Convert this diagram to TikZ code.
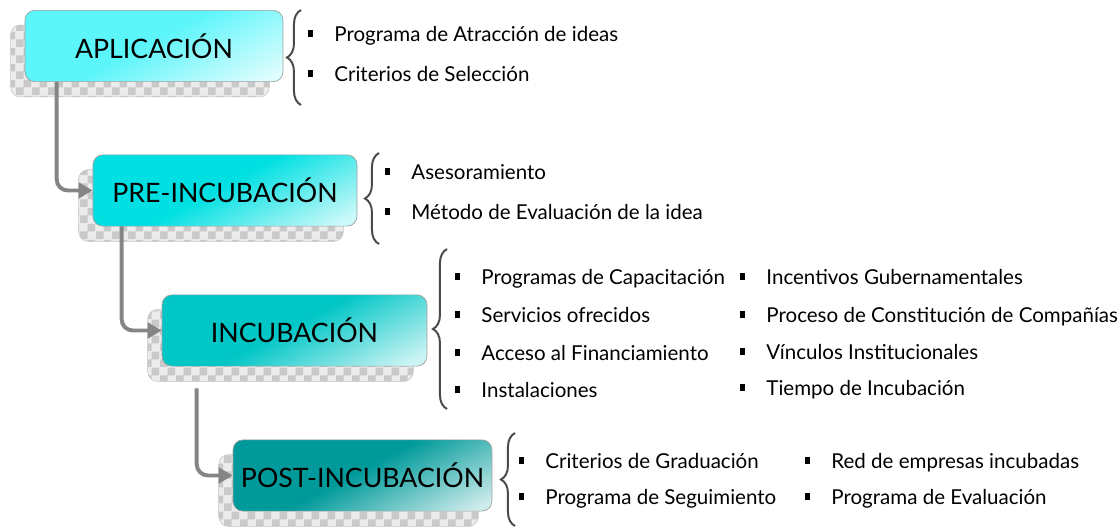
\documentclass[tikz,border=0pt]{standalone}
\usepackage{fontspec}
\setmainfont{Lato}
\usetikzlibrary{positioning,arrows.meta,calc,patterns,backgrounds,decorations.pathreplacing}
\definecolor{aplcol}{HTML}{5CF5FA}
\definecolor{precol}{HTML}{00E0E2}
\definecolor{inccol}{HTML}{00C6C6}
\definecolor{postcol}{HTML}{009A9A}
\definecolor{arrowgray}{HTML}{858585}
\definecolor{bracegray}{HTML}{4A4A4A}
\colorlet{stagemain}{aplcol}
\colorlet{stagelight}{white}
\pgfdeclareverticalshading[stagemain,stagelight]{stageshade}{100bp}{%
  color(0bp)=(stagelight); color(20bp)=(stagelight);
  color(52bp)=(stagemain); color(100bp)=(stagemain)}
\newcommand{\itm}[1]{\rule[3pt]{3.6pt}{5pt}\hspace{15pt}#1}
\tikzset{
  stagebox/.style={draw=gray!75,line width=0.5pt,rounded corners=7pt,
    minimum height=1.78cm,inner sep=0pt,font=\fontsize{19}{22}\selectfont},
  stagefill/.style={/utils/exec={\colorlet{stagemain}{#1}%
      \colorlet{stagelight}{#1!20!white}},
    shade,shading=stageshade,shading angle=28},
  stageshadow/.style={rounded corners=7pt,draw=gray!45,line width=0.4pt,
    preaction={fill=gray!15},pattern=checkerboard,pattern color=gray!42},
  flowarrow/.style={-{Triangle[length=10pt,width=11pt]},line width=2.8pt,
    arrowgray,rounded corners=8pt},
  listbrace/.style={decorate,decoration={brace,amplitude=10pt},
    line width=1.4pt,bracegray},
  listitem/.style={anchor=west,inner sep=0pt,text height=10.4pt,
    text depth=0pt,font=\fontsize{14.6}{17}\selectfont},
}
\begin{document}
\begin{tikzpicture}[x=0.025cm,y=-0.025cm]
  \useasboundingbox (0,0) rectangle (1120,527);
  \node[stagebox,stagefill=aplcol,minimum width=6.45cm] (apl) at (154,46) {APLICACIÓN};
  \node[stagebox,stagefill=precol,minimum width=6.6cm] (pre) at (225,190.5) {PRE-INCUBACIÓN};
  \node[stagebox,stagefill=inccol,minimum width=6.62cm] (inc) at (294.5,330.5) {INCUBACIÓN};
  \node[stagebox,stagefill=postcol,minimum width=6.47cm] (post) at (362.5,475.5) {POST-INCUBACIÓN};
  \begin{scope}[on background layer]
    \foreach \b in {apl,pre,inc,post}
      \draw[stageshadow] ($(\b.north west)+(-14,15)$) rectangle ($(\b.south east)+(-14,15)$);
  \end{scope}
  \draw[flowarrow] ($(apl.south west)+(32,0)$) |- (pre.west);
  \draw[flowarrow] ($(pre.south west)+(29,0)$) |- (inc.west);
  \draw[flowarrow] ($(inc.south west)+(35,22)$) |- (post.west);
  % lists
  \node[listitem] (apl1) at (308,34) {\itm{Programa de Atracción de ideas}};
  \node[listitem] (apl2) at (308,74) {\itm{Criterios de Selección}};
  \node[listitem] (pre1) at (385,172) {\itm{Asesoramiento}};
  \node[listitem] (pre2) at (385,212) {\itm{Método de Evaluación de la idea}};
  \node[listitem] (inc1) at (455,277) {\itm{Programas de Capacitación}};
  \node[listitem] (inc2) at (455,315) {\itm{Servicios ofrecidos}};
  \node[listitem] (inc3) at (455,353) {\itm{Acceso al Financiamiento}};
  \node[listitem] (inc4) at (455,390) {\itm{Instalaciones}};
  \node[listitem] (inc5) at (740,277) {\itm{Incentivos Gubernamentales}};
  \node[listitem] (inc6) at (740,315) {\itm{Proceso de Constitución de Compañías}};
  \node[listitem] (inc7) at (740,352) {\itm{Vínculos Institucionales}};
  \node[listitem] (inc8) at (740,388) {\itm{Tiempo de Incubación}};
  \node[listitem] (post1) at (519,461) {\itm{Criterios de Graduación}};
  \node[listitem] (post2) at (519,497) {\itm{Programa de Seguimiento}};
  \node[listitem] (post3) at (805,461) {\itm{Red de empresas incubadas}};
  \node[listitem] (post4) at (805,497) {\itm{Programa de Evaluación}};
  % braces
  \coordinate (aplbr-s) at (301,105);  \coordinate (aplbr-n) at (301,10);
  \coordinate (prebr-s) at (379,244);  \coordinate (prebr-n) at (379,153);
  \coordinate (incbr-s) at (447,409);  \coordinate (incbr-n) at (447,249);
  \coordinate (postbr-s) at (515,526); \coordinate (postbr-n) at (515,433);
  \draw[listbrace] (aplbr-s) -- (aplbr-n);
  \draw[listbrace] (prebr-s) -- (prebr-n);
  \draw[listbrace] (incbr-s) -- (incbr-n);
  \draw[listbrace] (postbr-s) -- (postbr-n);
\end{tikzpicture}
\end{document}
